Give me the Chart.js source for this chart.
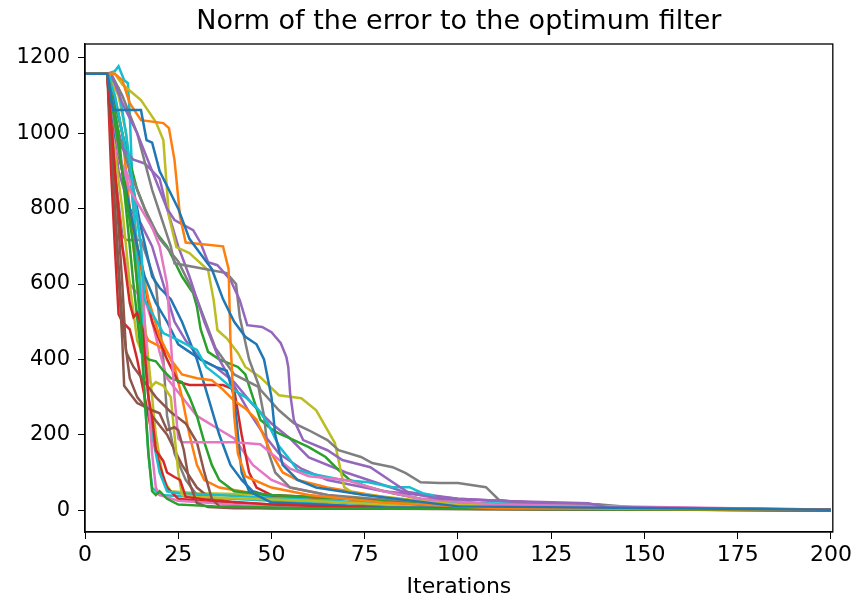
<!DOCTYPE html>
<html>
<head>
<meta charset="utf-8">
<script src="https://cdn.jsdelivr.net/npm/chart.js@4.4.1/dist/chart.umd.min.js"></script>
<style>
  html, body { margin: 0; padding: 0; background: #fff; }
  #wrap { width: 855px; height: 598px; }
</style>
</head>
<body>
<div id="wrap"><canvas id="chart" width="855" height="598"></canvas></div>
<script>
// --- Data (iteration, error) ---
const X_TICKS = [0, 25, 50, 75, 100, 125, 150, 175, 200];
const Y_TICKS = [0, 200, 400, 600, 800, 1000, 1200];

const run01 = [[0,1158],[6,1158],[7.5,1062],[15,1062],[16.5,982],[18,975],[20,900],[22,860],[25,800],[28,720],[31,680],[34,640],[37,560],[40,500],[43,460],[46,440],[48,400],[50,300],[51,200],[53,120],[57,80],[62,60],[75,40],[100,10],[200,1]];
const run02 = [[0,1158],[8,1158],[10,1141],[12,1080],[15,1035],[21,1027],[22.5,1014],[24,929],[25.5,778],[27,710],[37,700],[38.5,640],[39,450],[40,250],[41,150],[43,90],[50,60],[60,40],[80,20],[110,5],[200,1]];
const run03 = [[0,1158],[6,1158],[10,900],[13,700],[15,500],[16,300],[17,150],[18,50],[19,40],[20,50],[22,30],[25,15],[35,10],[60,5],[200,0]];
const run04 = [[0,1158],[6,1158],[8,900],[10,700],[12,550],[13,512],[14,523],[15.5,478],[17,300],[18,247],[19,159],[21,130],[22,100],[24,88],[25.5,80],[27,35],[35,25],[50,15],[80,5],[200,1]];
const run05 = [[0,1158],[7,1158],[10,1080],[14,1000],[18,900],[22,800],[24,770],[29,743],[31,709],[33,658],[35.5,650],[39,611],[41.5,557],[43.5,491],[47.5,486],[50,472],[52.5,443],[54,406],[54.5,380],[55,310],[56,239],[58.5,186],[65,159],[69,133],[76.5,114],[82.5,74],[87,45],[95,30],[110,25],[135,18],[140,8],[200,2]];
const run06 = [[0,1158],[6,1158],[8,800],[10,450],[10.5,330],[12,310],[14,284],[18,265],[20,257],[22,212],[24,220],[25,212],[26.5,159],[28,72],[30,19],[33,8],[40,5],[200,0]];
const run07 = [[0,1158],[6,1158],[9,950],[12,850],[15,800],[18,750],[20,700],[22,600],[23,450],[24,300],[25,190],[26,180],[40,180],[47,175],[50,150],[55,110],[60,90],[70,80],[80,50],[90,30],[110,15],[200,1]];
const run08 = [[0,1158],[7,1158],[10,1100],[14,1000],[18,850],[23,700],[24,655],[38,629],[40.5,600],[41.5,512],[44,400],[47,320],[52,265],[56,231],[60,212],[65,186],[68,159],[74,141],[77,125],[82.5,114],[86,98],[90,74],[95,72],[100,72],[107.5,61],[111,27],[116,21],[138,15],[150,5],[200,1]];
const run09 = [[0,1158],[8,1158],[10,1130],[15,1088],[19,1030],[21,982],[22.5,780],[24.5,698],[28,682],[33,637],[34.5,557],[35.5,478],[38,456],[41,417],[43,380],[47,353],[52,305],[58,297],[62,265],[67,178],[69.5,61],[72,45],[85,30],[100,15],[130,5],[200,1]];
const run10 = [[0,1158],[6,1158],[9,1120],[11,1000],[13,850],[15,700],[16,557],[21,470],[25,451],[30,425],[32.5,380],[36,353],[40,318],[43,300],[46,273],[49,231],[52,170],[55,133],[57,106],[60,98],[69,80],[76,74],[82.5,61],[87,61],[90.5,45],[93,40],[95,25],[100,19],[138,15],[140,3],[200,1]];

const run11 = [[0,1158],[6,1158],[8,1000],[10,900],[12,800],[14,700],[16,620],[19,550],[22,500],[25,440],[28,420],[31,400],[35,380],[38,370],[40,300],[41,200],[42,100],[44,50],[50,20],[80,8],[200,0]];
const run12 = [[0,1158],[6,1158],[8,1000],[11,850],[14,700],[17,560],[20,460],[23,400],[26,360],[30,350],[34,345],[37,320],[40,290],[43,270],[46,240],[50,150],[53,100],[57,80],[65,60],[80,35],[100,10],[200,1]];
const run13 = [[0,1158],[6,1158],[9,1000],[11,800],[13,600],[15,420],[17,400],[19,395],[21,370],[23,350],[26,340],[28,300],[30,250],[32,180],[34,120],[36,80],[40,50],[50,40],[70,30],[100,10],[200,1]];
const run14 = [[0,1158],[6,1158],[9,950],[12,800],[15,650],[18,500],[22,400],[25,340],[28,332],[37,332],[40,320],[42,200],[44,100],[46,60],[50,40],[70,30],[90,15],[120,5],[200,1]];
const run15 = [[0,1158],[6,1158],[8,1050],[10,960],[13,930],[16,920],[18,900],[20,880],[22,800],[25,700],[28,620],[32,500],[36,400],[40,330],[44,260],[48,200],[52,150],[58,110],[65,80],[80,50],[100,30],[120,20],[140,8],[200,1]];
const run16 = [[0,1158],[6,1158],[8,900],[10,600],[11,420],[13,380],[16,340],[19,300],[23,260],[27,230],[30,180],[32,100],[34,30],[36,10],[50,5],[200,0]];
const run17 = [[0,1158],[6,1158],[7,1050],[9,930],[11,900],[13,850],[15,700],[16,500],[17,300],[18,150],[19,60],[20,40],[25,25],[40,15],[70,5],[200,0]];
const run18 = [[0,1158],[6,1158],[9,1000],[12,900],[16,800],[20,720],[25,660],[30,560],[35,430],[40,360],[44,340],[46.5,327],[48,250],[49,159],[51,100],[55,60],[65,40],[90,20],[120,5],[200,1]];
const run19 = [[0,1158],[6,1158],[8,950],[10,800],[12,600],[14,450],[16,400],[17,350],[18,330],[19,340],[21,330],[23,300],[24,200],[25,100],[26,40],[30,35],[45,30],[60,25],[80,15],[100,5],[200,1]];
const run20 = [[0,1158],[6,1158],[8,1100],[10,1000],[12,900],[14,700],[16,400],[18,200],[20,100],[22,50],[25,45],[35,40],[55,30],[75,20],[100,10],[200,1]];

const run21 = [[0,1158],[6,1158],[9,1050],[12,900],[15,750],[18,620],[20,590],[23,560],[26,500],[30,400],[33,300],[36,200],[39,120],[42,80],[45,50],[50,35],[60,25],[80,15],[100,6],[200,0]];
const run22 = [[0,1158],[6,1158],[8,1100],[10,1000],[12,800],[14,600],[15.5,480],[17,450],[19,440],[22,420],[24,380],[26,300],[28,200],[30,120],[32,80],[36,60],[45,45],[60,30],[80,12],[200,1]];
const run23 = [[0,1158],[6,1158],[10,1000],[14,850],[18,750],[22,700],[24,660],[26,620],[28,590],[29,576],[30,540],[31,480],[33,420],[36,400],[41,380],[43,360],[45,300],[47,240],[50,215],[52,204],[56,186],[60,167],[64.5,141],[68,106],[71,80],[76,61],[82.5,45],[90,30],[110,15],[140,5],[200,1]];
const run24 = [[0,1158],[6,1158],[7,900],[8,700],[9,520],[10,500],[12,480],[14,400],[16,300],[18,200],[20,120],[22,60],[25,30],[35,20],[60,10],[200,1]];
const run25 = [[0,1158],[6,1158],[9,900],[12,800],[15,760],[18,700],[21,600],[24,500],[27,450],[31,400],[35,380],[40,340],[45,280],[50,230],[55,190],[60,140],[70,100],[85,50],[100,30],[125,18],[140,6],[200,1]];
const run26 = [[0,1158],[6,1158],[8,800],[10,500],[12,350],[14,300],[18,250],[22,200],[26,120],[30,60],[35,20],[45,10],[80,5],[200,0]];
const run27 = [[0,1158],[6,1158],[8,900],[10,700],[12,600],[14,575],[16,560],[18,500],[20,420],[22,350],[26,300],[30,250],[35,220],[40,190],[45,120],[50,80],[55,60],[65,40],[80,20],[100,8],[200,1]];
const run28 = [[0,1158],[6,1158],[8,900],[10,730],[11,717],[15,717],[17,660],[19,600],[21,400],[22,250],[24,150],[27,80],[30,40],[40,20],[60,10],[100,4],[200,0]];
const run29 = [[0,1158],[6,1158],[9,1100],[11,1000],[13,800],[15,600],[17,400],[19,200],[21,80],[23,50],[30,45],[45,42],[55,35],[70,20],[90,10],[120,3],[200,0]];
const run30 = [[0,1158],[6,1158],[8,1165],[9,1178],[10.5,1141],[11.5,1133],[12,1050],[13,800],[14,600],[15,450],[16,300],[17,150],[18,60],[20,40],[30,35],[50,25],[70,12],[100,5],[200,1]];

const RUNS = [run01, run02, run03, run04, run05, run06, run07, run08, run09, run10,
              run11, run12, run13, run14, run15, run16, run17, run18, run19, run20,
              run21, run22, run23, run24, run25, run26, run27, run28, run29, run30];

// matplotlib tab10 cycle
const PALETTE = ['#1f77b4', '#ff7f0e', '#2ca02c', '#d62728', '#9467bd',
                 '#8c564b', '#e377c2', '#7f7f7f', '#bcbd22', '#17becf'];

const FONT = "'DejaVu Sans', sans-serif";

// matplotlib draws a box round the axes
const frame = {
    id: 'frame',
    afterDatasetsDraw(chart) {
        const { ctx, chartArea: a } = chart;
        ctx.save();
        ctx.strokeStyle = '#000';
        ctx.lineWidth = 1.3;
        ctx.strokeRect(a.left, a.top, a.right - a.left, a.bottom - a.top);
        ctx.restore();
    }
};

const datasets = RUNS.map((run, i) => ({
    label: 'run ' + (i + 1),
    data: run.map(p => ({ x: p[0], y: p[1] })),
    borderColor: PALETTE[i % 10],
    backgroundColor: PALETTE[i % 10],
    borderWidth: 2.5,
    pointRadius: 0,
    tension: 0,
    fill: false
}));

new Chart(document.getElementById('chart').getContext('2d'), {
    type: 'line',
    data: { datasets },
    plugins: [frame],
    options: {
        responsive: false,
        animation: false,
        layout: { padding: { left: 0, right: 21, top: 0, bottom: 0 } },
        plugins: {
            legend: { display: false },
            tooltip: { enabled: false },
            title: {
                display: true,
                fullSize: false, // centre over the plot area, like matplotlib
                text: 'Norm of the error to the optimum filter',
                color: '#000',
                font: { family: FONT, size: 27, weight: 'normal', lineHeight: 1.2 },
                padding: { top: 6, bottom: 5.6 }
            }
        },
        scales: {
            x: {
                type: 'linear',
                min: 0, max: 200.5,
                afterBuildTicks: s => { s.ticks = X_TICKS.map(v => ({ value: v })); },
                afterFit: s => { s.height = 66; },
                grid: { drawOnChartArea: false, drawTicks: true, tickLength: 7, tickColor: '#000', color: '#000' },
                border: { color: '#000', width: 1.3 },
                ticks: { color: '#000', padding: 3, maxRotation: 0, font: { family: FONT, size: 22 }, callback: v => String(v) },
                title: { display: true, text: 'Iterations', color: '#000', padding: { top: 3, bottom: -2 }, font: { family: FONT, size: 22 } }
            },
            y: {
                min: -58, max: 1237,
                afterBuildTicks: s => { s.ticks = Y_TICKS.map(v => ({ value: v })); },
                afterFit: s => { s.width = 85; },
                grid: { drawOnChartArea: false, drawTicks: true, tickLength: 7, tickColor: '#000', color: '#000' },
                border: { color: '#000', width: 1.3 },
                ticks: { color: '#000', padding: 8, font: { family: FONT, size: 21 }, callback: v => String(v) }
            }
        }
    }
});
</script>
</body>
</html>
